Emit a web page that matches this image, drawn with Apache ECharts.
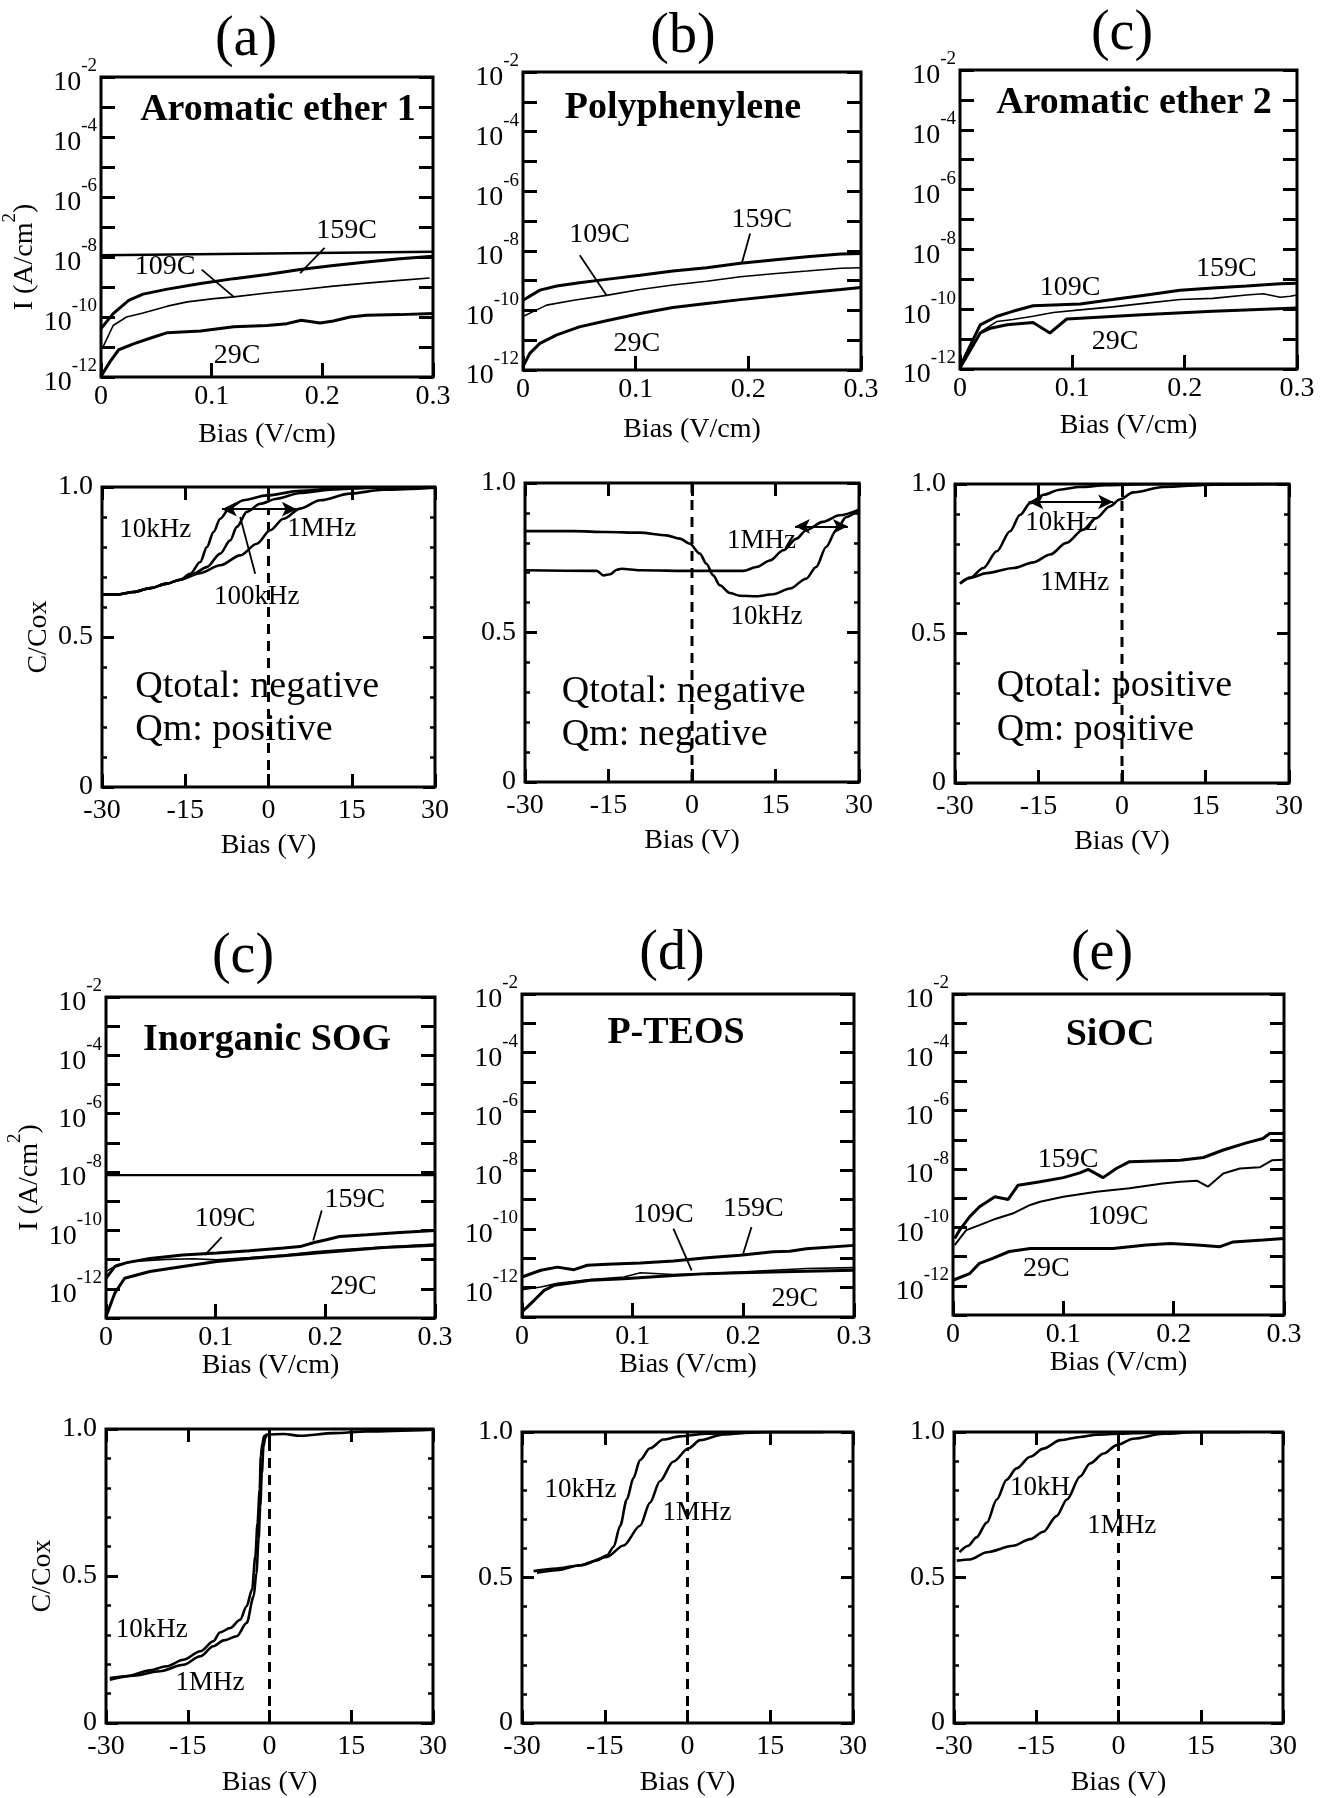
<!DOCTYPE html>
<html>
<head>
<meta charset="utf-8">
<script src="https://cdn.jsdelivr.net/npm/echarts@6/dist/echarts.min.js"></script>
<style>
  html, body { margin: 0; padding: 0; background: #fff; }
  #chart { width: 1325px; height: 1798px; }
</style>
</head>
<body>
<div id="chart"></div>
<script>
// ---------------- tick labels ----------------
const ivXTicks = ['0', '0.1', '0.2', '0.3'];
const ivYExponents = [-2, -4, -6, -8, -10, -12];
const cvXTicks = ['-30', '-15', '0', '15', '30'];
const cvYTicks = ['0', '0.5', '1.0'];

// ---------------- panel captions ----------------
const panelLetters = ['(a)', '(b)', '(c)', '(c)', '(d)', '(e)'];
const materials = ['Aromatic ether 1', 'Polyphenylene', 'Aromatic ether 2', 'Inorganic SOG', 'P-TEOS', 'SiOC'];

// ---------------- leakage current I (A/cm2) vs bias ----------------
// Aromatic ether 1
const ae1_159C = [[0,4.1e-11],[0.011,1.3e-10],[0.025,3.6e-10],[0.038,5.8e-10],[0.06,8.5e-10],[0.09,1.3e-9],[0.12,1.9e-9],[0.15,2.6e-9],[0.18,3.8e-9],[0.21,5.2e-9],[0.24,6.8e-9],[0.27,8.7e-9],[0.3,1.05e-8]];
const ae1_109C = [[0.001,8.7e-12],[0.011,5.2e-11],[0.023,1.0e-10],[0.038,1.35e-10],[0.06,2.3e-10],[0.078,3.2e-10],[0.102,4.1e-10],[0.12,4.7e-10],[0.15,6.3e-10],[0.18,8.1e-10],[0.21,1.07e-9],[0.24,1.35e-9],[0.27,1.66e-9],[0.297,2.0e-9]];
const ae1_29C = [[0,1.05e-12],[0.008,3.2e-12],[0.016,8.1e-12],[0.03,1.3e-11],[0.045,2.0e-11],[0.06,3.0e-11],[0.09,3.4e-11],[0.12,4.7e-11],[0.15,5.2e-11],[0.168,6.0e-11],[0.181,7.8e-11],[0.198,6.3e-11],[0.21,7.4e-11],[0.225,1.0e-10],[0.24,1.15e-10],[0.27,1.2e-10],[0.3,1.3e-10]];
const ae1_level = [[0,1.15e-8],[0.3,1.5e-8]];
const ae1_tags = [['159C',0.222,7.8e-8],['109C',0.058,4.7e-9],['29C',0.123,5.2e-12]];
const ae1_leaders = [[[0.202,2.0e-8],[0.18,2.9e-9]],[[0.091,3.8e-9],[0.12,4.7e-10]]];

// Polyphenylene
const pp_159C = [[0,2.2e-10],[0.015,4.8e-10],[0.03,6.6e-10],[0.05,8.5e-10],[0.074,1.1e-9],[0.104,1.5e-9],[0.133,2.1e-9],[0.163,2.7e-9],[0.193,3.8e-9],[0.222,4.9e-9],[0.252,6.3e-9],[0.282,7.8e-9],[0.3,8.1e-9]];
const pp_109C = [[0,6.2e-11],[0.009,9.1e-11],[0.021,1.5e-10],[0.045,2.2e-10],[0.074,3.2e-10],[0.104,5.0e-10],[0.133,7.1e-10],[0.163,9.5e-10],[0.193,1.35e-9],[0.222,1.7e-9],[0.252,2.1e-9],[0.282,2.6e-9],[0.3,2.7e-9]];
const pp_29C = [[0,1.3e-12],[0.006,3.6e-12],[0.015,7.8e-12],[0.03,1.5e-11],[0.05,2.8e-11],[0.074,4.5e-11],[0.104,7.9e-11],[0.133,1.26e-10],[0.163,1.7e-10],[0.193,2.3e-10],[0.222,3.0e-10],[0.252,3.9e-10],[0.282,5.0e-10],[0.3,5.9e-10]];
const pp_tags = [['159C',0.212,1.07e-7],['109C',0.068,3.4e-8],['29C',0.101,7.8e-12]];
const pp_leaders = [[[0.2016,3.8e-8],[0.1942,3.8e-9]],[[0.0504,7.1e-9],[0.0741,3.2e-10]]];

// Aromatic ether 2
const ae2_159C = [[0,1.2e-12],[0.018,3.0e-11],[0.033,5.8e-11],[0.047,8.5e-11],[0.065,1.3e-10],[0.107,1.5e-10],[0.136,2.1e-10],[0.166,3.0e-10],[0.196,4.3e-10],[0.225,5.1e-10],[0.255,6.0e-10],[0.285,7.1e-10],[0.3,7.4e-10]];
const ae2_109C = [[0.0015,1.4e-12],[0.019,1.8e-11],[0.033,3.9e-11],[0.047,4.5e-11],[0.065,5.8e-11],[0.083,7.8e-11],[0.107,9.5e-11],[0.136,1.2e-10],[0.166,1.6e-10],[0.196,2.1e-10],[0.225,2.3e-10],[0.255,3.0e-10],[0.27,3.3e-10],[0.285,2.5e-10],[0.294,2.7e-10],[0.3,3.0e-10]];
const ae2_29C = [[0,1.07e-12],[0.018,1.6e-11],[0.027,2.3e-11],[0.042,3.0e-11],[0.065,3.6e-11],[0.08,1.6e-11],[0.095,4.7e-11],[0.107,5.0e-11],[0.166,6.6e-11],[0.225,8.5e-11],[0.3,1.1e-10]];
const ae2_tags = [['159C',0.237,2.3e-9],['109C',0.098,5.1e-10],['29C',0.138,8.3e-12]];

// Inorganic SOG
const sog_159C = [[0,2.3e-12],[0.008,5.8e-12],[0.019,7.9e-12],[0.04,1.1e-11],[0.07,1.45e-11],[0.101,1.7e-11],[0.131,2.0e-11],[0.162,2.5e-11],[0.177,2.8e-11],[0.189,3.8e-11],[0.201,4.8e-11],[0.213,6.2e-11],[0.238,7.1e-11],[0.268,8.5e-11],[0.3,1.0e-10]];
const sog_109C = [[0,3.9e-12],[0.01,6.6e-12],[0.025,8.7e-12],[0.055,1.02e-11],[0.08,1.07e-11],[0.101,9.8e-12],[0.131,1.17e-11],[0.162,1.45e-11],[0.192,1.9e-11],[0.223,2.3e-11],[0.253,2.7e-11],[0.3,3.4e-11]];
const sog_29C = [[0,1.1e-13],[0.008,7.1e-13],[0.017,2.3e-12],[0.04,3.9e-12],[0.07,5.8e-12],[0.101,8.7e-12],[0.131,1.1e-11],[0.162,1.35e-11],[0.192,1.7e-11],[0.223,2.1e-11],[0.253,2.6e-11],[0.3,3.1e-11]];
const sog_level = [[0,7.9e-9],[0.3,7.9e-9]];
const sog_tags = [['159C',0.227,1.1e-9],['109C',0.1085,2.6e-10],['29C',0.2255,1.2e-12]];
const sog_leaders = [[[0.1967,4.8e-10],[0.189,4.5e-11]],[[0.1055,5.9e-11],[0.0903,1.45e-11]]];

// P-TEOS
const pt_159C = [[0,2.3e-12],[0.017,3.9e-12],[0.032,5.0e-12],[0.047,4.1e-12],[0.059,5.8e-12],[0.077,6.3e-12],[0.107,6.9e-12],[0.137,8.1e-12],[0.167,1.05e-11],[0.197,1.26e-11],[0.227,1.66e-11],[0.242,1.74e-11],[0.257,2.1e-11],[0.3,2.75e-11]];
const pt_109C = [[0,8.5e-13],[0.017,1.05e-12],[0.032,1.4e-12],[0.062,1.9e-12],[0.092,2.3e-12],[0.107,3.2e-12],[0.137,2.8e-12],[0.167,3.0e-12],[0.197,3.4e-12],[0.227,3.9e-12],[0.257,4.5e-12],[0.3,4.8e-12]];
const pt_29C = [[0,1.5e-13],[0.011,3.7e-13],[0.02,8.1e-13],[0.029,1.2e-12],[0.062,1.8e-12],[0.092,2.0e-12],[0.137,2.6e-12],[0.167,3.0e-12],[0.197,3.2e-12],[0.227,3.4e-12],[0.257,3.6e-12],[0.3,3.9e-12]];
const pt_tags = [['109C',0.1277,3.0e-10],['159C',0.209,4.9e-10],['29C',0.2465,4.2e-13]];
const pt_leaders = [[[0.1368,1.02e-10],[0.1533,3.9e-12]],[[0.2074,1.17e-10],[0.1999,1.45e-11]]];

// SiOC
const sioc_159C = [[0.0015,4.2e-11],[0.006,8.1e-11],[0.015,2.3e-10],[0.024,5.1e-10],[0.038,1.12e-9],[0.05,9.1e-10],[0.059,2.8e-9],[0.079,3.7e-9],[0.1,5.1e-9],[0.115,7.4e-9],[0.1225,9.8e-9],[0.136,5.1e-9],[0.148,1.05e-8],[0.16,1.8e-8],[0.19,1.95e-8],[0.206,2.0e-8],[0.227,2.5e-8],[0.245,4.5e-8],[0.266,7.9e-8],[0.281,1.12e-7],[0.287,1.66e-7],[0.3,1.66e-7]];
const sioc_109C = [[0.0015,2.5e-11],[0.012,8.1e-11],[0.024,1.2e-10],[0.039,2.0e-10],[0.054,3.0e-10],[0.07,5.9e-10],[0.079,7.6e-10],[0.1,1.12e-9],[0.13,1.66e-9],[0.16,2.2e-9],[0.19,3.2e-9],[0.206,3.7e-9],[0.221,4.0e-9],[0.231,2.5e-9],[0.245,7.1e-9],[0.26,1.05e-8],[0.278,1.15e-8],[0.289,2.0e-8],[0.3,2.1e-8]];
const sioc_29C = [[0,1.55e-12],[0.015,2.6e-12],[0.024,5.9e-12],[0.036,8.7e-12],[0.051,1.5e-11],[0.07,1.9e-11],[0.1,1.9e-11],[0.145,1.9e-11],[0.175,2.5e-11],[0.197,2.8e-11],[0.221,2.5e-11],[0.242,2.2e-11],[0.254,3.2e-11],[0.281,3.7e-11],[0.3,4.2e-11]];
const sioc_tags = [['159C',0.1043,2.1e-8],['109C',0.1497,2.3e-10],['29C',0.0847,3.9e-12]];

// ---------------- normalised capacitance C/Cox vs bias (V) ----------------
const ae1_10kHz = [[-30,0.642],[-27.3,0.642],[-24.3,0.65],[-21.3,0.663],[-18.3,0.678],[-15.9,0.691],[-14.1,0.711],[-12.3,0.75],[-11.1,0.8],[-9.9,0.85],[-8.7,0.894],[-6.9,0.933],[-4.5,0.956],[-0.3,0.972],[5.7,0.987],[11.7,0.994],[17.7,0.998],[30,1.0]];
const ae1_100kHz = [[-30,0.642],[-27.3,0.642],[-24.3,0.65],[-21.3,0.663],[-18.3,0.678],[-15.9,0.691],[-13.5,0.711],[-11.1,0.733],[-8.7,0.778],[-6.9,0.822],[-5.7,0.867],[-3.9,0.917],[-1.5,0.944],[1.5,0.961],[5.7,0.98],[11.7,0.992],[17.7,0.997],[30,1.0]];
const ae1_1MHz = [[-30,0.642],[-27.3,0.642],[-24.3,0.65],[-21.3,0.663],[-18.3,0.678],[-15.9,0.691],[-12.3,0.713],[-8.7,0.739],[-5.1,0.772],[-2.1,0.811],[0.3,0.856],[2.7,0.894],[5.7,0.928],[9.3,0.956],[14.7,0.978],[20.7,0.991],[30,0.998]];
const ae1_shift = [[-8.4,0.926],[5.1,0.926]];
const ae1_cvTags = [['10kHz',-20.4,0.856],['1MHz',9.6,0.861],['100kHz',-2.1,0.633]];
const ae1_cvLeaders = [[[-2.4,0.711],[-5.1,0.9]]];
const ae1_notes = [['Qtotal: negative',-24,0.333],['Qm: positive',-24,0.189]];

const pp_10kHz = [[-30,0.839],[-21.3,0.839],[-15.3,0.836],[-9.4,0.834],[-4.6,0.825],[-2.2,0.814],[-0.4,0.797],[1.4,0.764],[2.6,0.73],[3.8,0.691],[5.0,0.658],[6.8,0.632],[8.6,0.623],[11.6,0.621],[14.6,0.628],[17.6,0.647],[20.5,0.68],[22.3,0.719],[24.1,0.786],[25.9,0.842],[27.7,0.886],[30,0.911]];
const pp_1MHz = [[-30,0.708],[-17.1,0.706],[-15.9,0.691],[-14.7,0.695],[-13.5,0.71],[-12.7,0.713],[-9.4,0.708],[0.2,0.706],[9.2,0.706],[11.6,0.719],[14.0,0.741],[16.4,0.775],[18.8,0.814],[20.5,0.842],[23.5,0.87],[26.5,0.892],[30,0.911]];
const pp_shift = [[18.5,0.855],[28.0,0.855]];
const pp_cvTags = [['1MHz',12.5,0.808],['10kHz',13.4,0.552]];
const pp_notes = [['Qtotal: negative',-23.4,0.301],['Qm: negative',-23.4,0.156]];

const ae2_10kHz = [[-29.1,0.667],[-27.3,0.686],[-24.9,0.719],[-22.5,0.775],[-20.1,0.842],[-18.3,0.897],[-16.5,0.936],[-14.1,0.964],[-11.2,0.981],[-7.6,0.99],[-2.8,0.996],[4.4,0.999],[16.4,1.0],[30,1.0]];
const ae2_1MHz = [[-29.1,0.667],[-27.3,0.686],[-24.3,0.702],[-19.5,0.719],[-15.9,0.738],[-12.9,0.764],[-10.0,0.803],[-7.0,0.847],[-4.6,0.886],[-2.2,0.925],[-0.4,0.948],[2.0,0.972],[7.4,0.99],[16.4,0.998],[30,1.0]];
const ae2_shift = [[-16.8,0.94],[-1.6,0.94]];
const ae2_cvTags = [['10kHz',-10.9,0.87],['1MHz',-8.5,0.669]];
const ae2_notes = [['Qtotal: positive',-22.5,0.323],['Qm: positive',-22.5,0.178]];

const sog_10kHz = [[-29.3,0.153],[-26.2,0.159],[-21.9,0.179],[-18.9,0.193],[-15.8,0.215],[-12.7,0.244],[-10.3,0.278],[-9.1,0.308],[-7.2,0.323],[-5.4,0.351],[-4.2,0.397],[-3.2,0.454],[-2.6,0.567],[-2.2,0.68],[-1.8,0.794],[-1.6,0.907],[-1.3,0.952],[-1.0,0.975],[-0.5,0.981],[2.6,0.983],[5.6,0.977],[11.8,0.986],[17.9,0.992],[30,0.998]];
const sog_1MHz = [[-29.3,0.147],[-25.0,0.161],[-20.1,0.176],[-15.8,0.198],[-12.7,0.227],[-10.3,0.261],[-8.4,0.281],[-6.0,0.295],[-4.2,0.34],[-2.9,0.431],[-2.4,0.51],[-2.0,0.624],[-1.7,0.737],[-1.4,0.85],[-1.1,0.941],[-0.8,0.969],[-0.5,0.981]];
const sog_cvTags = [['10kHz',-21.6,0.317],['1MHz',-10.9,0.136]];

const pt_10kHz = [[-27.9,0.522],[-23.7,0.531],[-19.4,0.542],[-16.4,0.559],[-14.6,0.576],[-13.4,0.605],[-12.2,0.678],[-11.0,0.768],[-9.8,0.842],[-8.6,0.904],[-6.8,0.944],[-4.4,0.974],[-1.4,0.985],[3.5,0.994],[9.5,0.997],[15.5,1.0],[24.6,1.0]];
const pt_1MHz = [[-27.3,0.516],[-23.7,0.525],[-19.4,0.542],[-14.6,0.571],[-11.6,0.61],[-8.6,0.678],[-6.8,0.757],[-5.0,0.831],[-2.6,0.898],[0.2,0.944],[2.3,0.972],[6.5,0.992],[12.5,1.0],[24.6,1.0]];
const pt_cvTags = [['10kHz',-19.4,0.802],['1MHz',1.7,0.723]];

const sioc_10kHz = [[-29.0,0.587],[-27.4,0.609],[-25.9,0.638],[-24.0,0.689],[-22.2,0.768],[-20.4,0.836],[-18.6,0.875],[-16.1,0.915],[-13.7,0.943],[-10.6,0.972],[-7.0,0.983],[-4.0,0.991],[0.3,0.994],[5.2,0.997],[11.3,1.0],[22.2,1.0]];
const sioc_1MHz = [[-29.5,0.558],[-27.1,0.562],[-24.0,0.587],[-19.2,0.609],[-16.1,0.632],[-13.7,0.657],[-11.3,0.711],[-9.4,0.768],[-7.0,0.847],[-5.2,0.892],[-2.7,0.926],[-0.3,0.955],[2.7,0.977],[8.2,0.994],[14.3,1.0],[22.2,1.0]];
const sioc_cvTags = [['10kH',-14.3,0.807],['1MHz',0.6,0.677]];

// height reached by the dashed 0 V marker in each C-V panel
const zeroMarkTop = [0.93, 1.0, 0.95, 0.975, 0.944, 0.97];

// ---------------- layout ----------------
const FONT = '"Liberation Serif", "Times New Roman", Times, serif';
const INK = '#000';

// plot rectangles [left, top, width, height] in px
const boxes = [
  [101, 77, 332, 300], [523, 72, 338, 298], [960, 70, 337, 299],
  [102, 487, 333, 300], [525, 483, 334, 299], [955, 484, 334, 299],
  [106, 997, 329, 321], [522, 994, 332, 323], [953, 994, 331, 321],
  [106, 1429, 327, 294], [522, 1432, 331, 295], [954, 1432, 329, 294]
];
const letterPos = [[246, 40], [683, 37], [1122, 34], [243, 957], [672, 954], [1102, 954]];
const materialPos = [[278, 110], [683, 108], [1134, 103], [267, 1040], [676, 1033], [1110, 1035]];

const option = {
  animation: false,
  backgroundColor: '#fff',
  grid: [], xAxis: [], yAxis: [], series: [], graphic: []
};

const tickLine = { color: INK, width: 3 };
const txt = { color: INK, fontFamily: FONT, fontSize: 28 };

function addGrid(i) {
  const [l, t, w, h] = boxes[i];
  option.grid.push({ left: l, top: t, width: w, height: h, show: true,
    borderColor: INK, borderWidth: 3, backgroundColor: 'transparent' });
}

function fmtFrom(list) {
  return v => {
    const hit = list.find(s => Math.abs(parseFloat(s) - v) < 1e-9);
    return hit === undefined ? '' : hit;
  };
}

function addIVAxes(i, logMin, yName, nameGapX, yNameShift) {
  addGrid(i);
  const base = { gridIndex: i, splitLine: { show: false }, axisLine: { show: false, onZero: false } };
  option.xAxis.push(Object.assign({}, base, {
    type: 'value', position: 'bottom', min: 0, max: 0.3, interval: 0.1,
    axisTick: { show: true, inside: true, length: 14, lineStyle: tickLine },
    axisLabel: Object.assign({}, txt, { margin: 6, formatter: fmtFrom(ivXTicks) }),
    name: 'Bias (V/cm)', nameLocation: 'middle', nameGap: nameGapX, nameMoveOverlap: false,
    nameTextStyle: Object.assign({}, txt)
  }));
  option.xAxis.push(Object.assign({}, base, {
    type: 'value', position: 'top', min: 0, max: 0.3, interval: 0.1,
    axisTick: { show: false }, axisLabel: { show: false }
  }));
  const decades = Math.round(Math.log10(1e-2 / logMin));
  const yBase = Object.assign({}, base, {
    type: 'log', logBase: 10, min: logMin, max: 1e-2, splitNumber: decades,
    axisTick: { show: true, inside: true, length: 14, lineStyle: tickLine }
  });
  if (decades !== 10) yBase.interval = 1;
  option.yAxis.push(Object.assign({}, yBase, {
    position: 'left',
    axisLabel: {
      margin: 4,
      formatter: v => {
        const e = Math.round(Math.log10(v));
        return ivYExponents.indexOf(e) >= 0 ? '{b|10}{e|' + e + '}' : '';
      },
      rich: {
        b: { fontFamily: FONT, fontSize: 28, color: INK, padding: [12, 0, 0, 0] },
        e: { fontFamily: FONT, fontSize: 19, color: INK, verticalAlign: 'top' }
      }
    },
    name: yName ? '{n|I (A/cm}{s|2}{n|)}' : '', nameLocation: 'middle', nameGap: 62, nameMoveOverlap: false,
    nameTextStyle: Object.assign({}, txt, {
      padding: [0, yNameShift * 2, 0, 0],
      rich: {
        n: { fontFamily: FONT, fontSize: 28, color: INK, padding: [10, 0, 0, 0] },
        s: { fontFamily: FONT, fontSize: 19, color: INK, verticalAlign: 'top' }
      }
    })
  }));
  option.yAxis.push(Object.assign({}, yBase, { position: 'right', axisLabel: { show: false } }));
}

function addCVAxes(i, yName, nameGapX) {
  addGrid(i);
  const base = { gridIndex: i, splitLine: { show: false }, axisLine: { show: false, onZero: false } };
  const xBase = Object.assign({}, base, {
    type: 'value', min: -30, max: 30, interval: 15,
    axisTick: { show: true, inside: true, length: 13, lineStyle: tickLine }
  });
  option.xAxis.push(Object.assign({}, xBase, {
    position: 'bottom',
    axisLabel: Object.assign({}, txt, { margin: 10, formatter: fmtFrom(cvXTicks) }),
    name: 'Bias (V)', nameLocation: 'middle', nameGap: nameGapX, nameMoveOverlap: false,
    nameTextStyle: Object.assign({}, txt)
  }));
  option.xAxis.push(Object.assign({}, xBase, { position: 'top', axisLabel: { show: false } }));
  const yBase = Object.assign({}, base, {
    type: 'value', min: 0, max: 1, interval: 0.5,
    axisTick: { show: true, inside: true, length: 12, lineStyle: tickLine },
    minorTick: { show: true, splitNumber: 5, length: 5, lineStyle: { color: INK, width: 2.5 } }
  });
  option.yAxis.push(Object.assign({}, yBase, {
    position: 'left',
    axisLabel: Object.assign({}, txt, { margin: 9, formatter: fmtFrom(cvYTicks) }),
    name: yName ? 'C/Cox' : '', nameLocation: 'middle', nameGap: 49, nameMoveOverlap: false,
    nameTextStyle: Object.assign({}, txt)
  }));
  option.yAxis.push(Object.assign({}, yBase, { position: 'right', axisLabel: { show: false } }));
}

function onAxes(i, s) {
  return Object.assign({ xAxisIndex: 2 * i, yAxisIndex: 2 * i, silent: true, clip: true }, s);
}

function addCurve(i, data, width, smooth) {
  option.series.push(onAxes(i, {
    type: 'line', data, symbol: 'none', showSymbol: false,
    smooth: smooth || false, smoothMonotone: 'x',
    lineStyle: { color: INK, width }, z: 3
  }));
}

function addTags(i, list, size, align) {
  option.series.push(onAxes(i, {
    type: 'scatter', symbolSize: 1, itemStyle: { color: 'transparent' }, z: 5,
    data: list.map(([name, x, y]) => ({ name, value: [x, y] })),
    label: Object.assign({}, txt, {
      show: true, position: 'inside', formatter: '{b}', fontSize: size, align: align || 'center',
      opacity: 1, textBorderWidth: 0
    })
  }));
}

function addLeaders(i, list) {
  list.forEach(seg => addCurve(i, seg, 1.8));
}

function addArrow(i, seg) {
  option.series.push(onAxes(i, {
    type: 'line', data: [], symbol: 'none',
    markLine: {
      silent: true, animation: false, symbol: ['arrow', 'arrow'], symbolSize: [11, 15],
      label: { show: false }, lineStyle: { color: INK, width: 2.2, type: 'solid' },
      data: [[{ coord: seg[0] }, { coord: seg[1] }]]
    }
  }));
}

function addZeroMark(i, top) {
  option.series.push(onAxes(i, {
    type: 'line', data: [[0, 0], [0, top]], symbol: 'none', z: 2,
    lineStyle: { color: INK, width: 3, type: [10, 7] }
  }));
}

// ---- row 1, I-V ----
addIVAxes(0, 1e-12, true, 44, 30);
[[ae1_159C, 3], [ae1_109C, 1.6], [ae1_29C, 3], [ae1_level, 2.4]].forEach(([d, w]) => addCurve(0, d, w));
addTags(0, ae1_tags, 28); addLeaders(0, ae1_leaders);

addIVAxes(1, 1e-12, false, 46, 0);
[[pp_159C, 3], [pp_109C, 1.6], [pp_29C, 3]].forEach(([d, w]) => addCurve(1, d, w));
addTags(1, pp_tags, 28); addLeaders(1, pp_leaders);

addIVAxes(2, 1e-12, false, 43, 0);
[[ae2_159C, 3], [ae2_109C, 1.6], [ae2_29C, 3]].forEach(([d, w]) => addCurve(2, d, w));
addTags(2, ae2_tags, 28);

// ---- row 1, C-V ----
addCVAxes(3, true, 45);
[ae1_10kHz, ae1_100kHz, ae1_1MHz].forEach(d => addCurve(3, d, 2.6, 0.3));
addArrow(3, ae1_shift); addZeroMark(3, zeroMarkTop[0]);
addTags(3, ae1_cvTags, 27); addLeaders(3, ae1_cvLeaders);
addTags(3, ae1_notes, 38, 'left');

addCVAxes(4, false, 45);
[pp_10kHz, pp_1MHz].forEach(d => addCurve(4, d, 2.6, 0.3));
addArrow(4, pp_shift); addZeroMark(4, zeroMarkTop[1]);
addTags(4, pp_cvTags, 27); addTags(4, pp_notes, 38, 'left');

addCVAxes(5, false, 45);
[ae2_10kHz, ae2_1MHz].forEach(d => addCurve(5, d, 2.6, 0.3));
addArrow(5, ae2_shift); addZeroMark(5, zeroMarkTop[2]);
addTags(5, ae2_cvTags, 27); addTags(5, ae2_notes, 38, 'left');

// ---- row 2, I-V ----
addIVAxes(6, 1e-13, true, 34, 20);
[[sog_159C, 3], [sog_109C, 1.6], [sog_29C, 3], [sog_level, 2.4]].forEach(([d, w]) => addCurve(6, d, w));
addTags(6, sog_tags, 28); addLeaders(6, sog_leaders);

addIVAxes(7, 1e-13, false, 34, 0);
[[pt_159C, 3], [pt_109C, 1.6], [pt_29C, 3]].forEach(([d, w]) => addCurve(7, d, w));
addTags(7, pt_tags, 28); addLeaders(7, pt_leaders);

addIVAxes(8, 1e-13, false, 34, 0);
[[sioc_159C, 3], [sioc_109C, 2], [sioc_29C, 3]].forEach(([d, w]) => addCurve(8, d, w));
addTags(8, sioc_tags, 28);

// ---- row 2, C-V ----
addCVAxes(9, true, 46);
[sog_10kHz, sog_1MHz].forEach(d => addCurve(9, d, 2.6, 0.3));
addZeroMark(9, zeroMarkTop[3]); addTags(9, sog_cvTags, 27);

addCVAxes(10, false, 46);
[pt_10kHz, pt_1MHz].forEach(d => addCurve(10, d, 2.6, 0.3));
addZeroMark(10, zeroMarkTop[4]); addTags(10, pt_cvTags, 27);

addCVAxes(11, false, 46);
[sioc_10kHz, sioc_1MHz].forEach(d => addCurve(11, d, 2.6, 0.3));
addZeroMark(11, zeroMarkTop[5]); addTags(11, sioc_cvTags, 27);

// ---- captions ----
panelLetters.forEach((t, k) => {
  option.graphic.push({ type: 'text', x: letterPos[k][0], y: letterPos[k][1], silent: true,
    style: { text: t, font: '56px ' + FONT, fill: INK, textAlign: 'center', textVerticalAlign: 'middle', align: 'center', verticalAlign: 'middle' } });
});
materials.forEach((t, k) => {
  option.graphic.push({ type: 'text', x: materialPos[k][0], y: materialPos[k][1], silent: true, z: 10,
    style: { text: t, font: 'bold 38px ' + FONT, fill: INK, textAlign: 'center', textVerticalAlign: 'middle', align: 'center', verticalAlign: 'middle' } });
});

const chart = echarts.init(document.getElementById('chart'), null, { renderer: 'canvas' });
chart.setOption(option);
</script>
</body>
</html>
